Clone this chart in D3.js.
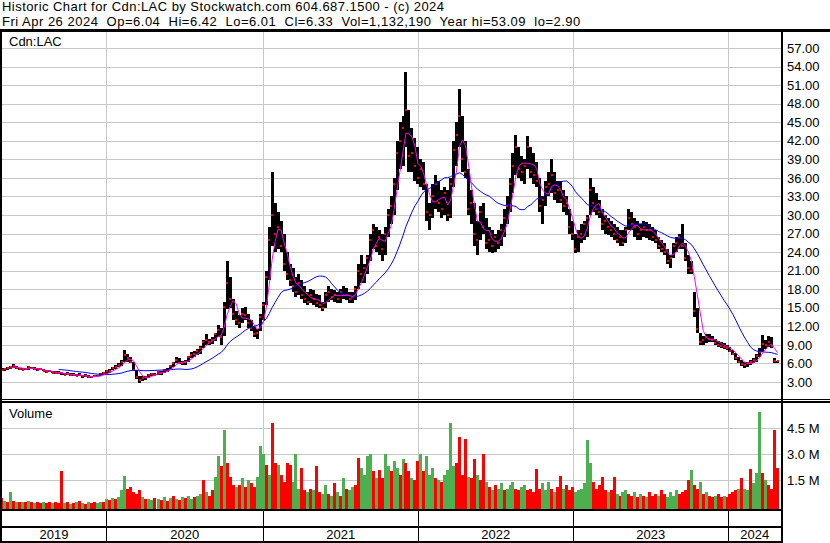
<!DOCTYPE html>
<html>
<head>
<meta charset="utf-8">
<script src="https://cdn.jsdelivr.net/npm/d3@7"></script>
<style>
body { margin: 0; background: #fff; }
svg text { font-family: "Liberation Sans", Arial, sans-serif; font-size: 13px; fill: #000; white-space: pre; }
</style>
</head>
<body>
<div id="chart"></div>
<script>
// weekly bars (week ending friday), volume = typical daily volume that week, in millions
var firstWeek = "2019-05-03";
var hi = [
  5.3,5.2,5.4,5.6,5.9,5.6,5.3,5.3,5.2,5.6,
  5.5,5.4,5.2,5.3,5.1,4.9,5.0,4.8,4.7,4.7,
  4.6,4.5,4.6,4.4,4.5,4.3,4.4,4.2,4.3,4.1,
  4.0,4.2,4.1,4.4,4.6,4.9,5.1,5.5,5.7,6.0,
  6.6,8.1,7.6,7.0,6.3,5.0,4.0,3.9,4.0,4.3,
  4.5,4.4,4.8,4.7,5.1,5.2,5.8,6.3,7.0,6.8,
  6.4,6.6,7.2,7.8,8.0,8.4,8.8,9.8,10.7,10.0,
  10.2,11.0,12.2,11.8,16.0,22.6,20.0,16.5,14.5,13.8,
  15.0,15.2,14.0,13.0,12.0,11.5,14.0,16.0,21.0,28.0,
  37.0,32.0,30.5,29.0,27.0,24.0,22.0,21.5,20.0,20.5,
  19.5,18.5,17.5,18.0,17.8,17.2,17.0,16.0,17.5,18.5,
  18.0,17.8,17.5,18.0,18.5,18.2,17.5,17.5,18.5,22.0,
  23.5,22.0,23.5,27.0,28.5,28.0,27.5,27.0,28.0,31.0,
  33.0,36.0,42.0,45.0,46.0,53.09,47.0,44.0,42.5,41.0,
  39.0,38.5,35.0,32.0,35.0,36.5,35.5,34.0,34.5,34.0,
  36.0,42.0,45.0,50.3,46.0,42.0,37.5,34.0,32.0,29.0,
  31.5,32.0,29.5,28.0,27.5,27.0,27.5,28.5,31.0,33.0,
  36.0,40.0,43.0,41.0,39.5,39.0,42.8,41.0,40.0,38.5,
  36.0,33.0,35.5,37.0,39.0,37.0,35.5,35.5,34.0,33.0,
  31.0,29.0,27.0,27.5,28.5,29.0,30.0,36.0,34.5,33.5,
  32.5,31.0,30.0,29.5,29.0,28.5,28.0,27.5,27.5,28.0,
  30.9,30.5,29.5,29.0,28.5,29.0,28.8,28.5,28.0,27.5,
  26.5,26.0,25.5,24.5,23.5,25.5,26.5,27.0,28.5,25.5,
  23.5,22.5,17.5,15.0,11.0,10.5,10.8,10.8,10.5,10.0,
  9.6,9.5,9.3,9.0,8.6,8.2,7.7,7.0,6.5,6.2,
  6.3,6.6,6.8,7.5,8.5,10.6,9.8,10.5,10.3,6.9,
  6.42
];
var lo = [
  4.8,4.8,4.9,5.1,5.3,5.1,4.9,4.9,4.9,5.0,
  5.1,5.0,4.8,4.9,4.7,4.5,4.6,4.4,4.3,4.3,
  4.2,4.1,4.1,3.9,4.0,3.9,3.9,3.7,3.8,3.7,
  3.6,3.8,3.8,4.0,4.1,4.3,4.5,4.9,5.1,5.4,
  5.6,6.2,6.3,6.0,4.8,3.5,2.9,3.2,3.4,3.7,
  3.9,4.0,4.2,4.2,4.5,4.6,5.1,5.4,6.0,5.9,
  5.7,5.8,6.2,6.8,7.1,7.3,7.6,8.5,9.0,9.0,
  9.2,9.6,10.3,9.0,10.5,14.8,15.0,13.0,12.2,11.8,
  12.5,13.0,11.8,11.3,10.2,10.0,11.2,13.0,15.5,19.5,
  25.0,24.0,24.5,24.0,21.0,19.5,18.5,17.5,16.8,17.0,
  16.5,15.8,15.5,15.8,15.5,15.2,15.0,14.4,15.0,16.0,
  16.2,16.0,15.8,15.8,16.5,16.2,15.8,15.8,16.3,18.0,
  19.0,19.0,20.5,22.5,24.5,24.0,23.5,22.5,23.5,26.5,
  28.5,30.0,34.0,37.5,38.0,41.0,37.0,37.0,35.5,35.0,
  34.5,34.0,29.0,27.5,29.5,31.0,30.5,29.5,30.0,29.0,
  29.5,34.5,38.0,41.0,37.0,36.0,30.0,28.5,25.0,23.5,
  26.0,27.0,24.5,24.0,23.8,24.0,24.5,25.0,26.5,28.5,
  30.5,33.5,36.5,36.0,35.5,35.0,37.5,36.0,35.0,34.5,
  30.5,28.5,31.5,33.0,33.5,32.5,32.0,32.0,30.5,30.0,
  27.0,26.0,23.8,24.0,25.5,26.0,26.5,30.0,30.5,30.0,
  29.5,27.5,27.0,26.8,26.5,26.0,25.5,25.0,25.0,25.5,
  27.5,27.5,26.5,26.0,26.0,26.5,26.3,26.0,25.8,25.5,
  24.5,24.0,23.5,22.0,21.5,23.0,24.0,24.5,24.5,22.5,
  20.5,20.5,13.5,11.0,9.0,9.0,9.3,9.5,9.4,9.0,
  8.6,8.5,8.3,8.2,7.8,7.4,6.6,6.0,5.6,5.2,
  5.5,5.8,6.0,6.3,7.0,7.8,8.4,8.6,8.5,6.1,
  6.01
];
var cl = [
  5.0,5.1,5.3,5.5,5.6,5.2,5.1,5.0,5.1,5.4,
  5.3,5.1,4.9,5.1,4.8,4.6,4.8,4.5,4.4,4.5,
  4.4,4.2,4.3,4.1,4.2,4.0,4.1,3.9,4.0,3.8,
  3.8,4.0,3.9,4.3,4.4,4.7,4.8,5.3,5.4,5.8,
  6.3,7.4,6.8,6.2,5.0,3.8,3.4,3.6,3.8,4.1,
  4.3,4.2,4.6,4.5,4.9,4.8,5.6,6.0,6.6,6.1,
  6.0,6.3,7.0,7.4,7.6,8.0,8.5,9.4,9.8,9.5,
  9.8,10.7,11.4,10.2,15.2,19.0,16.5,14.0,13.0,12.5,
  14.0,13.8,12.5,11.8,10.8,11.0,13.5,15.5,20.0,26.0,
  30.0,27.0,28.0,25.0,22.0,20.5,19.5,18.5,17.5,19.0,
  17.0,16.5,16.0,17.0,16.5,15.8,15.5,15.0,17.0,17.5,
  16.8,17.0,16.5,17.5,17.0,17.0,16.5,16.8,18.0,21.0,
  20.5,21.5,23.0,26.0,27.5,25.0,26.5,24.5,27.0,30.0,
  31.5,35.0,40.0,42.0,44.0,47.0,39.5,40.0,38.0,36.0,
  37.5,35.0,30.5,30.0,33.0,35.0,32.0,31.0,33.5,30.0,
  35.0,40.5,43.0,46.0,39.0,37.0,31.0,32.0,27.0,26.0,
  30.5,28.0,25.5,26.0,25.0,26.5,25.5,27.5,29.5,31.5,
  35.0,38.0,41.0,37.5,37.0,38.0,41.0,37.0,36.5,35.5,
  31.5,32.5,34.5,35.0,36.5,33.5,34.0,32.5,31.5,32.0,
  28.0,27.0,24.5,26.5,27.0,28.5,29.5,34.0,32.0,31.0,
  30.5,28.5,29.0,28.0,27.5,27.0,26.0,26.5,25.5,27.5,
  29.5,28.5,28.0,27.0,27.5,28.0,27.6,27.5,26.5,26.0,
  25.0,24.5,24.0,22.5,23.0,25.0,25.5,26.5,25.0,23.0,
  21.5,21.0,14.5,11.5,9.5,9.8,10.2,10.0,9.8,9.3,
  9.0,8.9,8.6,8.5,8.0,7.6,6.8,6.3,5.9,5.7,
  6.0,6.3,6.5,7.2,7.8,9.2,9.0,9.5,8.8,6.4,
  6.33
];
var vol = [
  0.45,0.3,0.2,0.8,0.3,0.2,0.25,0.2,0.2,0.3,
  0.2,0.15,0.2,0.15,0.2,0.15,0.2,0.15,0.2,0.15,
  2.0,0.15,0.2,0.1,0.15,0.2,0.3,0.15,0.1,0.2,
  0.15,0.2,0.15,0.2,0.25,0.4,0.35,0.45,0.4,0.5,
  0.9,1.75,1.0,1.1,0.8,0.7,0.9,0.5,0.4,0.4,
  0.35,0.45,0.4,0.35,0.5,0.3,0.45,0.55,0.4,0.35,
  0.5,0.45,0.55,0.4,0.5,0.6,0.7,1.5,0.8,0.6,
  0.9,1.7,2.9,2.3,4.4,2.5,1.7,1.2,1.1,1.2,
  1.6,1.1,1.5,1.3,1.1,1.7,3.5,3.0,2.4,1.8,
  4.8,2.5,2.4,1.8,1.4,2.5,2.4,1.4,3.0,1.0,
  2.2,0.9,0.8,1.0,0.9,2.3,0.8,0.7,1.2,0.7,
  0.6,1.3,0.8,0.6,1.6,1.0,0.9,1.1,1.2,2.8,
  2.2,1.8,2.9,3.0,2.0,1.6,2.1,1.6,3.0,2.3,
  2.0,2.6,2.2,1.8,2.7,2.5,2.0,1.6,1.5,2.6,
  3.0,2.0,2.9,1.8,2.2,1.6,1.5,1.4,1.8,2.1,
  4.8,2.3,2.5,4.0,1.8,3.9,1.7,1.6,2.7,1.8,
  1.5,3.0,1.4,1.1,0.9,1.2,1.0,1.3,0.9,1.0,
  1.2,1.4,1.0,0.9,1.1,1.2,0.9,1.0,0.8,2.15,
  1.0,1.3,0.9,1.4,1.0,0.8,1.1,1.75,1.0,1.2,
  0.9,1.1,0.8,0.9,1.0,1.3,3.8,2.5,1.4,1.0,
  1.2,1.7,0.9,0.8,0.9,1.7,0.7,0.6,0.8,0.9,
  0.7,0.6,0.8,0.5,0.7,0.6,0.5,0.8,0.6,0.7,
  0.6,0.9,0.7,0.5,0.8,0.6,0.9,0.7,0.8,0.9,
  1.5,2.1,1.2,1.0,1.4,0.7,0.8,0.6,0.5,0.6,
  0.7,0.5,0.6,0.5,0.7,0.8,0.9,1.0,1.6,1.0,
  0.9,2.15,1.3,1.9,5.45,1.9,1.5,1.2,1.0,4.4,
  2.2
];
// U = up (green), D = down (red)
var volDir = ("DUDUDUDUDU" + "DUDDUDDUDD" + "DUDUDUDUDU" + "DDUUDUDUDU" + "UUDDDDDUDU" +
  "UDUDUDUDUD" + "UDUUDUUDUD" + "DUUDUDDDUD" + "UDUDDUUUDU" + "DDUDDDDUUU" +
  "DDUDUDDUUD" + "UDUDUDUUDD" + "UUUUDUDDUU" + "DUUDUDDUDD" + "UDUUUDUDUU" +
  "UUDDDDUDDU" + "DDUDUDUUDU" + "UUDDUUDDDD" + "DUUUDUDDUD" + "DDUUUUUUDD" +
  "DDDUDDUDUU" + "DDUDUDUDDD" + "UDDUUUUDDD" + "DUDDUDUDDU" + "DDUDDDDUDU" +
  "UDUUUDUDDD" + "D").split("");

var years = ["2019", "2020", "2021", "2022", "2023", "2024"];
var priceTicks = [3, 6, 9, 12, 15, 18, 21, 24, 27, 30, 33, 36, 39, 42, 45, 48, 51, 54, 57];
var volTicks = [1.5, 3.0, 4.5];
var title1 = "Historic Chart for Cdn:LAC by Stockwatch.com 604.687.1500 - (c) 2024";
var title2 = "Fri Apr 26 2024  Op=6.04  Hi=6.42  Lo=6.01  Cl=6.33  Vol=1,132,190  Year hi=53.09  lo=2.90";
var symbol = "Cdn:LAC";

var width = 830, height = 543;
var plotR = 781;

var svg = d3.select("#chart").append("svg")
  .attr("width", width)
  .attr("height", height);

var start = d3.timeParse("%Y-%m-%d")(firstWeek);
var weeks = hi.map((d, i) => {
  return {date: d3.timeDay.offset(start, 7 * i), hi: d, lo: lo[i], cl: cl[i], vol: vol[i], up: volDir[i] == "U"};
});

var yearDates = years.map((d) => new Date(+d, 0, 1));
var x = d3.scaleTime()
  .domain(yearDates.slice(1))
  .range([106, 263.3, 418.3, 573.3, 728.3]);
var y = d3.scaleLinear().domain([3, 57]).range([382, 48]);
var yv = d3.scaleLinear().domain([0, 4.5]).range([505.9, 428.3]);

// grid
var grid = svg.append("g")
  .attr("stroke", "#c8c8c8")
  .attr("shape-rendering", "crispEdges");
grid.selectAll(".gp").data(priceTicks).enter().append("line")
  .attr("x1", 2).attr("x2", plotR)
  .attr("y1", (d) => Math.round(y(d)) + 0.5)
  .attr("y2", (d) => Math.round(y(d)) + 0.5);
grid.selectAll(".gv").data(volTicks).enter().append("line")
  .attr("x1", 2).attr("x2", plotR)
  .attr("y1", (d) => Math.round(yv(d)) + 0.5)
  .attr("y2", (d) => Math.round(yv(d)) + 0.5);
grid.selectAll(".gx").data(yearDates.slice(1)).enter().append("line")
  .attr("x1", (d) => Math.round(x(d)) + 0.5)
  .attr("x2", (d) => Math.round(x(d)) + 0.5)
  .attr("y1", 32).attr("y2", 509);

// volume
svg.append("g").attr("shape-rendering", "crispEdges")
  .selectAll("rect").data(weeks).enter().append("rect")
  .attr("x", (d) => x(d.date) - 1.5)
  .attr("width", 3)
  .attr("y", (d) => yv(d.vol))
  .attr("height", (d) => 509 - yv(d.vol))
  .attr("fill", (d) => d.up ? "#4caf50" : "#ff0000");

// price bars
var bars = svg.append("g").attr("shape-rendering", "crispEdges");
bars.selectAll(".hl").data(weeks).enter().append("rect")
  .attr("x", (d) => x(d.date) - 1.5)
  .attr("width", 3)
  .attr("y", (d) => y(d.hi))
  .attr("height", (d) => Math.max(1, y(d.lo) - y(d.hi)))
  .attr("fill", "#000");
bars.selectAll(".cl").data(weeks).enter().append("rect")
  .attr("x", (d) => x(d.date) - 1)
  .attr("width", 2)
  .attr("y", (d) => y(d.cl) - 1)
  .attr("height", 2)
  .attr("fill", "#ff0000");

// moving averages
function sma(n) {
  return weeks.map((d, i) => {
    return {date: d.date, v: i < n - 1 ? null : d3.mean(weeks.slice(i - n + 1, i + 1), (w) => w.cl)};
  });
}
var line = d3.line()
  .defined((d) => d.v != null)
  .x((d) => x(d.date))
  .y((d) => y(d.v));
svg.append("path").datum(sma(20))
  .attr("fill", "none").attr("stroke", "#0000ff").attr("stroke-width", 1)
  .attr("d", line);
svg.append("path").datum(sma(4))
  .attr("fill", "none").attr("stroke", "#ff00ff").attr("stroke-width", 1)
  .attr("d", line);

// frame
function block(x0, y0, w, h) {
  svg.append("rect").attr("x", x0).attr("y", y0).attr("width", w).attr("height", h).attr("fill", "#000");
}
block(0, 29, width, 3);
block(0, 399, width, 1);
block(0, 401, width, 2);
block(0, 509, plotR + 2, 2);
block(0, 526, plotR + 2, 2);
block(0, 541, plotR + 2, 2);
block(0, 29, 2, 514);
block(plotR, 29, 2, 514);
svg.append("g").selectAll("rect").data(yearDates.slice(1)).enter().append("rect")
  .attr("x", (d) => Math.round(x(d)))
  .attr("y", 511).attr("width", 1).attr("height", 30)
  .attr("fill", "#000");

// axes
var pAxis = svg.append("g")
  .attr("transform", "translate(" + (plotR + 1) + ",0)")
  .call(d3.axisRight(y).tickValues(priceTicks).tickSize(0).tickPadding(5).tickFormat(d3.format(".2f")));
var vAxis = svg.append("g")
  .attr("transform", "translate(" + (plotR + 1) + ",0)")
  .call(d3.axisRight(yv).tickValues(volTicks).tickSize(0).tickPadding(5).tickFormat((d) => d.toFixed(1) + " M"));
[pAxis, vAxis].forEach((g) => {
  g.attr("font-size", null).attr("font-family", null);
  g.select(".domain").remove();
});

// year labels
svg.append("g").selectAll("text").data(years).enter().append("text")
  .attr("x", (d, i) => {
    var a = i == 0 ? 2 : x(yearDates[i]);
    var b = i == years.length - 1 ? plotR : x(new Date(+d + 1, 0, 1));
    return (a + b) / 2;
  })
  .attr("y", 539)
  .attr("text-anchor", "middle")
  .text((d) => d);

// titles
svg.append("text").attr("x", 2).attr("y", 11).attr("letter-spacing", 0.45).text(title1);
svg.append("text").attr("x", 2).attr("y", 25.5).attr("letter-spacing", 0.5).text(title2);
svg.append("text").attr("x", 9).attr("y", 46).text(symbol);
svg.append("text").attr("x", 9).attr("y", 418).text("Volume");
</script>
</body>
</html>
